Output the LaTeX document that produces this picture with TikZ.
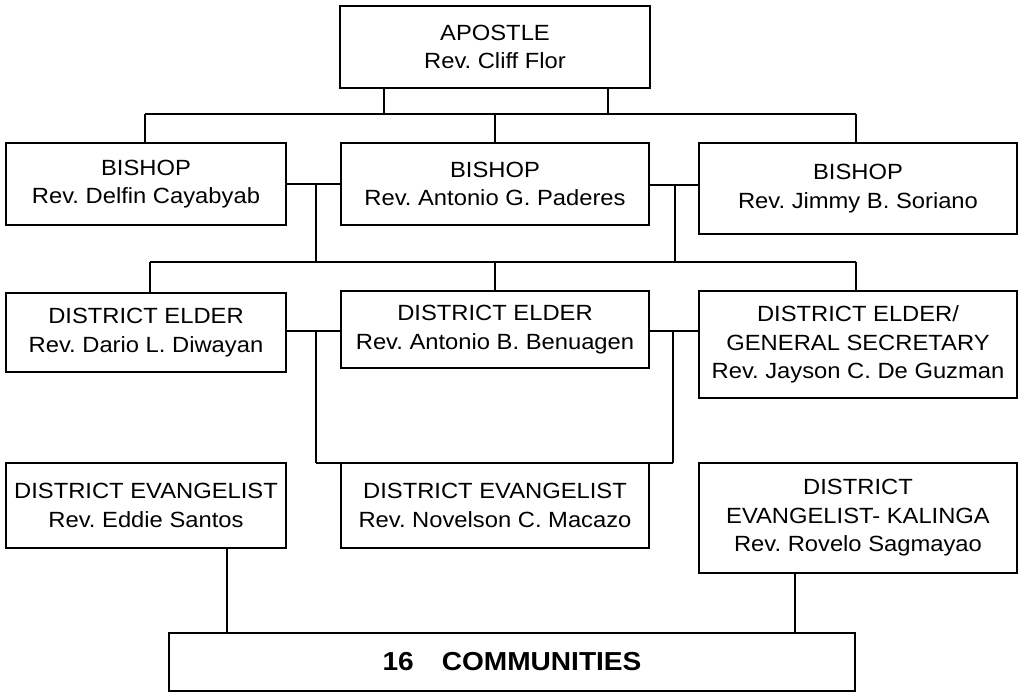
\documentclass[tikz,border=0pt]{standalone}
\usepackage{fontspec}
\setmainfont{Liberation Sans}[FakeStretch=1.08]
\usetikzlibrary{calc}
\begin{document}
\frenchspacing
\begin{tikzpicture}[x=1pt,y=-1pt,
  box/.style={draw,line width=1.9pt,rectangle,align=center,inner sep=0pt,
    font=\fontsize{22}{28.5}\selectfont\frenchspacing},
  conn/.style={line width=1.8pt}]
\useasboundingbox (0,0) rectangle (1019,695);
% boxes: centers and sizes in px
\node[box,minimum width=310,minimum height=82] (apo) at (495,47) {APOSTLE\\Rev. Cliff Flor};
\node[box,minimum width=280,minimum height=82] (b1) at (146,184) {BISHOP\\Rev. Delfin Cayabyab};
\node[box,minimum width=308,minimum height=82] (b2) at (495,184) {BISHOP\\Rev. Antonio G. Paderes};
\node[box,minimum width=318,minimum height=91] (b3) at (858,188.5) {BISHOP\\Rev. Jimmy B. Soriano};
\node[box,minimum width=280,minimum height=79] (d1) at (146,332.5) {DISTRICT ELDER\\Rev. Dario L. Diwayan};
\node[box,minimum width=308,minimum height=77] (d2) at (495,329.5) {DISTRICT ELDER\\Rev. Antonio B. Benuagen};
\node[box,minimum width=318,minimum height=107] (d3) at (858,344.5) {DISTRICT ELDER/\\GENERAL SECRETARY\\Rev. Jayson C. De Guzman};
\node[box,minimum width=280,minimum height=85] (e1) at (146,505.5) {DISTRICT EVANGELIST\\Rev. Eddie Santos};
\node[box,minimum width=308,minimum height=85] (e2) at (495,505.5) {DISTRICT EVANGELIST\\Rev. Novelson C. Macazo};
\node[box,minimum width=318,minimum height=110] (e3) at (858,518) {DISTRICT\\EVANGELIST- KALINGA\\Rev. Rovelo Sagmayao};
\node[box,minimum width=686,minimum height=58,font=\fontsize{26}{30}\selectfont\bfseries] (com) at (512,662) {16\hspace{28pt}COMMUNITIES};
% bus coordinates
\coordinate (bus1) at (495,114);
\coordinate (bus2) at (495,262);
\coordinate (j1) at (316,184);
\coordinate (j2) at (675,185);
\coordinate (k1) at (316,331);
\coordinate (k2) at (673,331);
\coordinate (m1) at (316,463);
\coordinate (m2) at (673,463);
% apostle to bishops
\draw[conn] ([xshift=-111]apo.south) -- ([xshift=-111]apo.south |- bus1);
\draw[conn] ([xshift=113]apo.south) -- ([xshift=113]apo.south |- bus1);
\draw[conn] ([xshift=-1]b1.north |- bus1) -- ([xshift=-2]b3.north |- bus1);
\draw[conn] ([xshift=-1]b1.north |- bus1) -- ([xshift=-1]b1.north);
\draw[conn] (b2.north |- bus1) -- (b2.north);
\draw[conn] ([xshift=-2]b3.north |- bus1) -- ([xshift=-2]b3.north);
% bishops to district elders
\draw[conn] (b1.east) -- (b2.west);
\draw[conn] (j2 -| b2.east) -- (j2 -| b3.west);
\draw[conn] (j1) -- (j1 |- bus2);
\draw[conn] (j2) -- (j2 |- bus2);
\draw[conn] ([xshift=4]d1.north |- bus2) -- ([xshift=-2]d3.north |- bus2);
\draw[conn] ([xshift=4]d1.north |- bus2) -- ([xshift=4]d1.north);
\draw[conn] (d2.north |- bus2) -- (d2.north);
\draw[conn] ([xshift=-2]d3.north |- bus2) -- ([xshift=-2]d3.north);
% district elders to evangelists
\draw[conn] (k1 -| d1.east) -- (k1 -| d2.west);
\draw[conn] (k2 -| d2.east) -- (k2 -| d3.west);
\draw[conn] (k1) -- (m1);
\draw[conn] (k2) -- (m2);
\draw[conn] (m1) -- (m2);
% evangelists to communities
\draw[conn] ([xshift=81]e1.south) -- ([xshift=81]e1.south |- com.north);
\draw[conn] ([xshift=-63]e3.south) -- ([xshift=-63]e3.south |- com.north);
\end{tikzpicture}
\end{document}
